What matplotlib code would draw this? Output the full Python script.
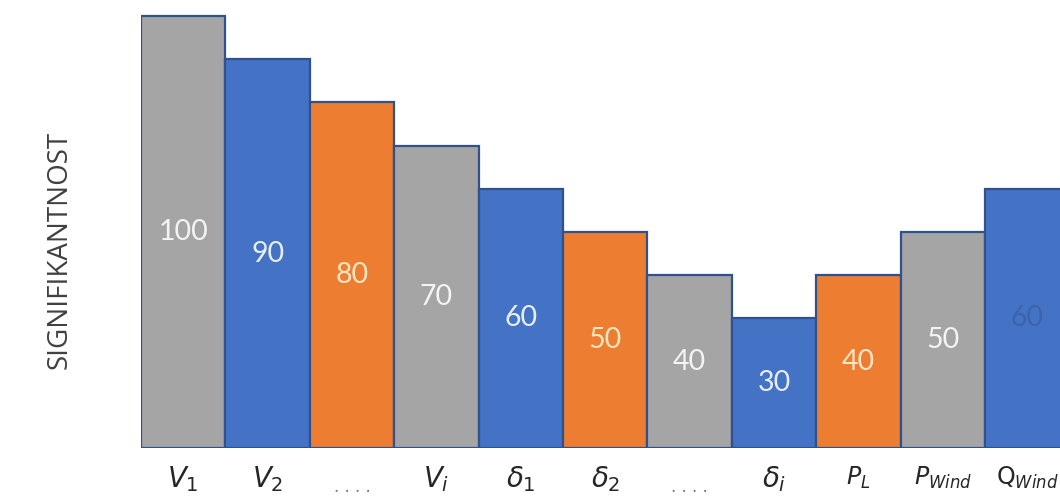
import matplotlib
matplotlib.use("Agg")
import matplotlib.pyplot as plt

categories = [r'$\mathit{V_1}$', r'$\mathit{V_2}$', '. . . .', r'$\mathit{V_i}$',
              r'$\mathit{\delta_1}$', r'$\mathit{\delta_2}$', '. . . .', r'$\mathit{\delta_i}$',
              r'$\mathit{P_L}$', r'$\mathit{P}_{\mathit{Wind}}$', r'$\mathrm{Q}_{\mathit{Wind}}$']
values = [100, 90, 80, 70, 60, 50, 40, 30, 40, 50, 60]
labels = ['100', '90', '80', '70', '60', '50', '40', '30', '40', '50', '60']

GRAY, BLUE, ORANGE = '#a5a5a5', '#4472c4', '#ed7d31'
bar_colors = [GRAY, BLUE, ORANGE, GRAY, BLUE, ORANGE, GRAY, BLUE, ORANGE, GRAY, BLUE]
text_colors = ['#f4f4f4', '#e6eefa', '#fde6c4', '#f4f4f4', '#e6eefa', '#fde6c4',
               '#f4f4f4', '#e6eefa', '#fde6c4', '#f4f4f4', '#3d63ad']
tick_sizes = [20, 20, 12, 20, 20, 20, 12, 20, 17, 17, 17]

plt.rcParams['mathtext.fontset'] = 'dejavusans'
W, H = 1060, 498
fig = plt.figure(figsize=(W / 100, H / 100), dpi=100)
left_px, bottom_px, top_px = 141, 448, 10
ax = fig.add_axes([left_px / W, (H - bottom_px) / H, 1 - left_px / W, (bottom_px - top_px) / H])

x = list(range(len(values)))
ax.bar(x, values, width=1.0, color=bar_colors, edgecolor='#2f528f', linewidth=1.6)
ax.set_xlim(-0.5, -0.5 + (W - left_px) / 84.4)
ax.set_ylim(0, 100 * (bottom_px - top_px) / (bottom_px - 16))

for xi, v, lab, tc in zip(x, values, labels, text_colors):
    ax.text(xi, v / 2, lab, ha='center', va='center', fontsize=20.5,
            color=tc, family='Lato')

ax.set_xticks(x)
ax.set_xticklabels(categories)
for t, s, c in zip(ax.get_xticklabels(), tick_sizes, categories):
    t.set_fontsize(s)
    t.set_color('#262626')
    if c.startswith('.'):
        t.set_color('#7f7f7f')
        t.set_y(-0.03)
ax.tick_params(axis='x', length=0, pad=12)
ax.set_yticks([])
for sp in ax.spines.values():
    sp.set_visible(False)

fig.text(60 / W, 1 - 250 / H, 'SIGNIFIKANTNOST', rotation=90, ha='center', va='center',
         fontsize=20, color='#404040', family='Open Sans')

fig.savefig('out.png', dpi=100)
